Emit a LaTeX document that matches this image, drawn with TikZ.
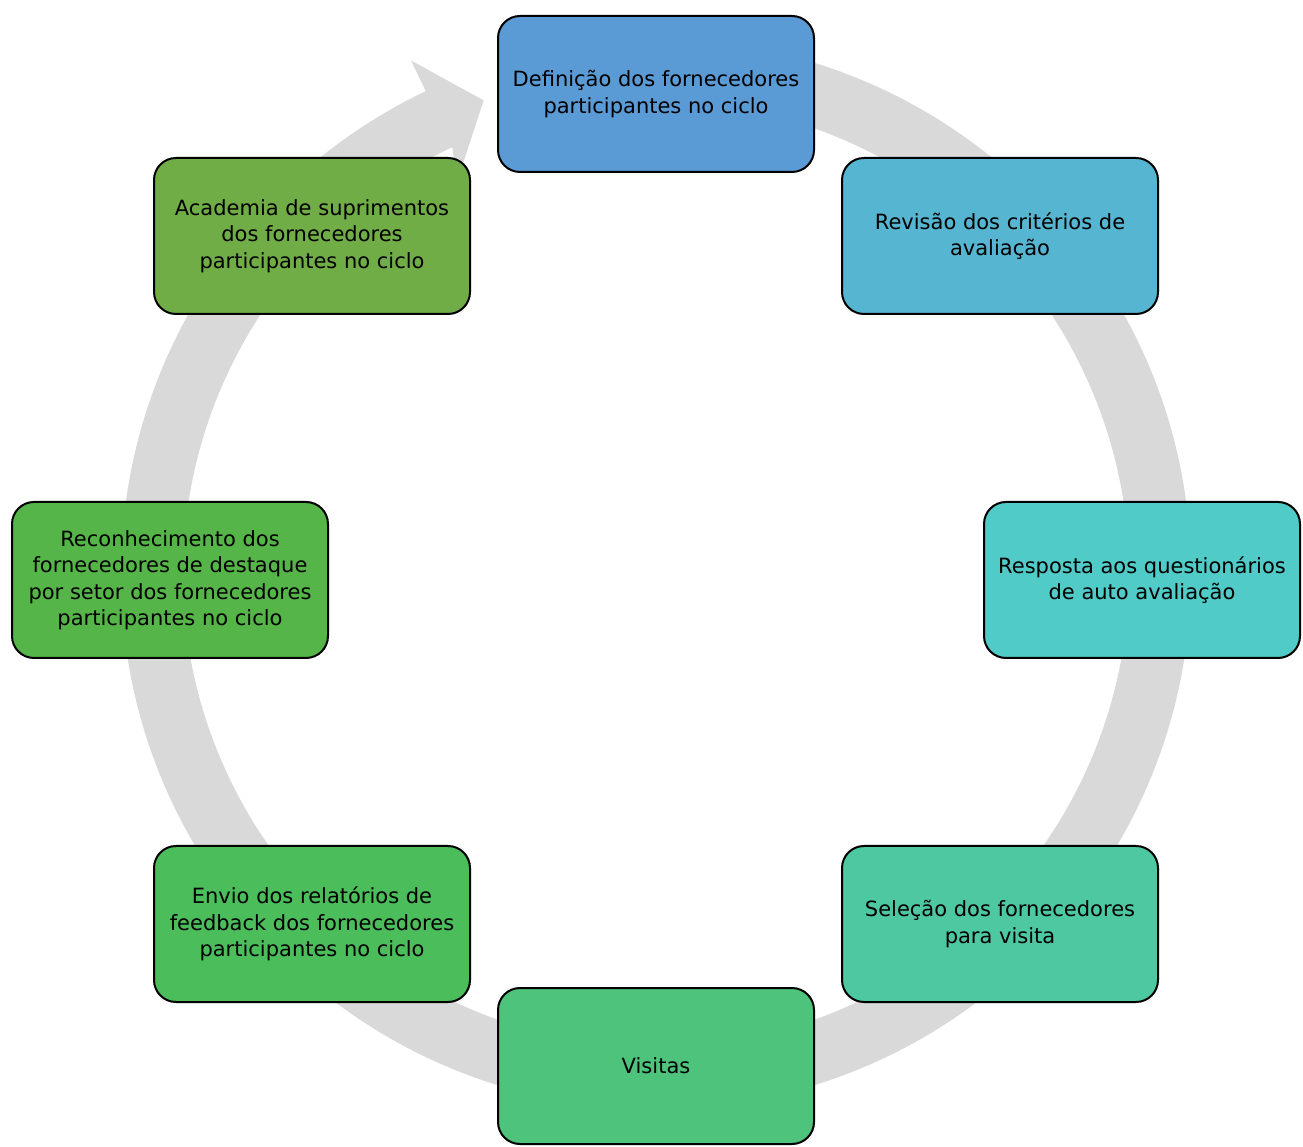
\documentclass[tikz,border=0pt]{standalone}
\usepackage{fontspec}
\setmainfont{DejaVu Sans}
\usetikzlibrary{calc}
\definecolor{ringgray}{HTML}{D9D9D9}
\definecolor{cA}{HTML}{5B9BD5}
\definecolor{cB}{HTML}{56B5D0}
\definecolor{cC}{HTML}{51CBC7}
\definecolor{cD}{HTML}{4EC8A1}
\definecolor{cE}{HTML}{4DC37B}
\definecolor{cF}{HTML}{4BBD5A}
\definecolor{cG}{HTML}{55B548}
\definecolor{cH}{HTML}{70AD47}
\tikzset{
  stepbox/.style={draw=black, line width=2pt, rounded corners=22pt,
    minimum width=316pt, minimum height=156pt, align=center, inner sep=0pt,
    font=\fontsize{21pt}{26.5pt}\selectfont, text=black}
}
\begin{document}
\begin{tikzpicture}[x=1pt,y=1pt]
\useasboundingbox (0,0) rectangle (1303,1146);
\coordinate (C) at (656,572);
% ring arrow
\fill[ringgray] ($(C)+(90:535pt)$) arc[start angle=90,end angle=-244.5,radius=535pt]
  -- ($(C)+(115.5:569pt)$) -- ($(C)+(110:504pt)$) -- ($(C)+(117:439pt)$)
  -- ($(C)+(115.5:473pt)$) arc[start angle=-244.5,end angle=90,radius=473pt] -- cycle;
% boxes
\node[stepbox, fill=cA] (n1) at (656,1052) {Definição dos fornecedores\\participantes no ciclo};
\node[stepbox, fill=cB] (n2) at (1000,910) {Revisão dos critérios de\\avaliação};
\node[stepbox, fill=cC] (n3) at (1142,566) {Resposta aos questionários\\de auto avaliação};
\node[stepbox, fill=cD] (n4) at (1000,222) {Seleção dos fornecedores\\para visita};
\node[stepbox, fill=cE] (n5) at (656,80) {Visitas};
\node[stepbox, fill=cF] (n6) at (312,222) {Envio dos relatórios de\\feedback dos fornecedores\\participantes no ciclo};
\node[stepbox, fill=cG] (n7) at (170,566) {Reconhecimento dos\\fornecedores de destaque\\por setor dos fornecedores\\participantes no ciclo};
\node[stepbox, fill=cH] (n8) at (312,910) {Academia de suprimentos\\dos fornecedores\\participantes no ciclo};
\end{tikzpicture}
\end{document}
